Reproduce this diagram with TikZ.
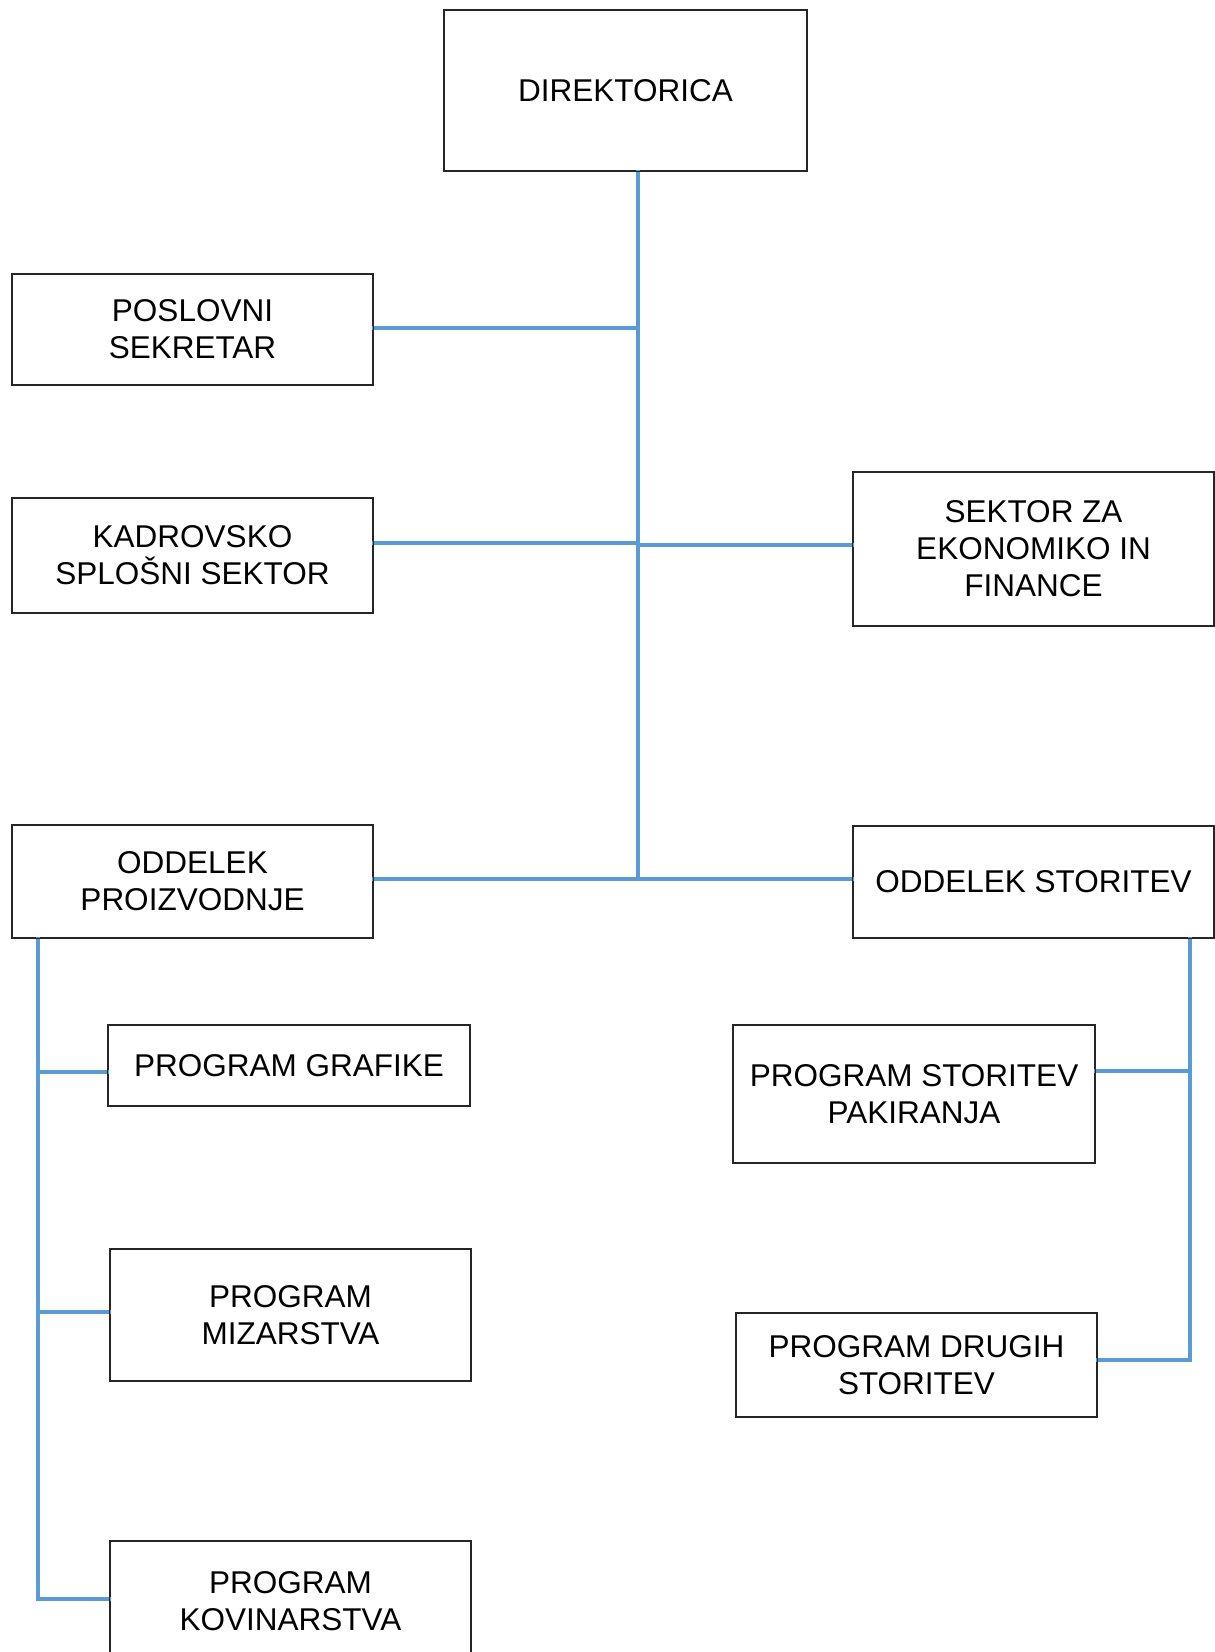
\documentclass[tikz,border=0pt]{standalone}
\usepackage{fontspec}
\setmainfont{Liberation Sans}
\definecolor{linkblue}{HTML}{5B9BD5}
\tikzset{
  orgbox/.style={draw=black!85, line width=1.3pt, inner sep=0pt, align=center,
    font=\fontsize{31.5}{37}\selectfont},
  conn/.style={draw=linkblue, line width=4pt, line cap=rect, line join=miter}
}
\begin{document}
\begin{tikzpicture}[x=1pt,y=-1pt]
\useasboundingbox (0,0) rectangle (1215,1652);
\clip (0,0) rectangle (1215,1652);
\fill[white] (0,0) rectangle (1215,1652);
% boxes
\node[orgbox, minimum width=363pt, minimum height=161pt] (dir) at (625.5,90.5) {DIREKTORICA};
\node[orgbox, minimum width=361pt, minimum height=111pt] (pos) at (192.5,329.5) {POSLOVNI\\SEKRETAR};
\node[orgbox, minimum width=361pt, minimum height=115pt] (kad) at (192.5,555.5) {KADROVSKO\\SPLOŠNI SEKTOR};
\node[orgbox, minimum width=361pt, minimum height=154pt] (sek) at (1033.5,549) {SEKTOR ZA\\EKONOMIKO IN\\FINANCE};
\node[orgbox, minimum width=361pt, minimum height=113pt] (opr) at (192.5,881.5) {ODDELEK\\PROIZVODNJE};
\node[orgbox, minimum width=361pt, minimum height=112pt] (ost) at (1033.5,882) {ODDELEK STORITEV};
\node[orgbox, minimum width=362pt, minimum height=81pt] (gra) at (289,1065.5) {PROGRAM GRAFIKE};
\node[orgbox, minimum width=362pt, minimum height=138pt] (pak) at (914,1094) {PROGRAM STORITEV\\PAKIRANJA};
\node[orgbox, minimum width=361pt, minimum height=132pt] (miz) at (290.5,1315) {PROGRAM\\MIZARSTVA};
\node[orgbox, minimum width=361pt, minimum height=104pt] (dru) at (916.5,1365) {PROGRAM DRUGIH\\STORITEV};
\node[orgbox, minimum width=361pt, minimum height=121pt] (kov) at (290.5,1601.5) {PROGRAM\\KOVINARSTVA};
% junction points
\coordinate (jpos) at (638,328);
\coordinate (jkad) at (638,543);
\coordinate (jsek) at (638,545);
\coordinate (jbot) at (638,879);
\coordinate (jl1) at (38,1072);
\coordinate (jl2) at (38,1312);
\coordinate (jl3) at (38,1599);
\coordinate (jr1) at (1190,1071);
\coordinate (jr2) at (1190,1360);
% connectors
\draw[conn] (dir.south -| jpos) -- (jbot);
\draw[conn] (pos.east |- jpos) -- (jpos);
\draw[conn] (kad.east |- jkad) -- (jkad);
\draw[conn] (jsek) -- (sek.west |- jsek);
\draw[conn] (opr.east |- jbot) -- (jbot) -- (ost.west |- jbot);
\draw[conn] (opr.south -| jl1) -- (jl3) -- (kov.west |- jl3);
\draw[conn] (jl1) -- (gra.west |- jl1);
\draw[conn] (jl2) -- (miz.west |- jl2);
\draw[conn] (ost.south -| jr1) -- (jr2) -- (dru.east |- jr2);
\draw[conn] (jr1) -- (pak.east |- jr1);
% redraw boxes on top
\foreach \n in {dir,pos,kad,sek,opr,ost,gra,pak,miz,dru,kov}
  \draw[draw=black!85, line width=1.3pt] (\n.north west) rectangle (\n.south east);
\end{tikzpicture}
\end{document}
